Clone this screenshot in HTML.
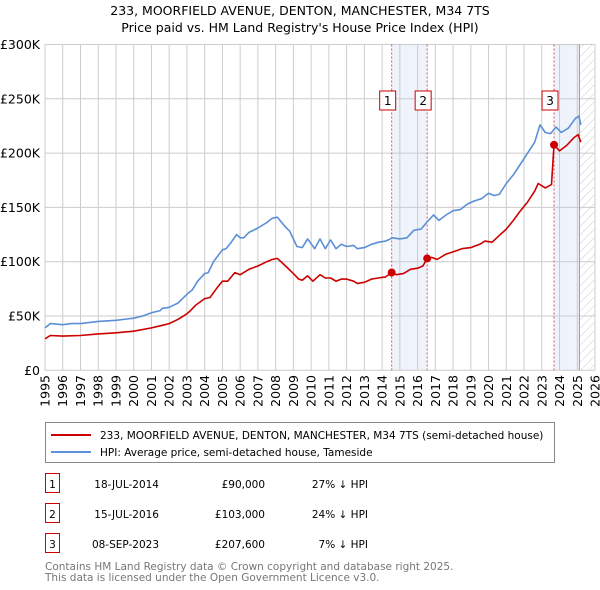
<!DOCTYPE html>
<html><head><meta charset="utf-8">
<style>
body{margin:0;background:#fff;font-family:"Liberation Sans","DejaVu Sans",sans-serif;}
#wrap{position:relative;width:600px;height:590px;overflow:hidden;}
svg text{font-family:"DejaVu Sans","Liberation Sans",sans-serif;}
</style></head>
<body>
<div id="wrap">
<svg id="chart" width="600" height="590"></svg>
</div>
<script>
const xTickYears=[1995,1996,1997,1998,1999,2000,2001,2002,2003,2004,2005,2006,2007,2008,2009,2010,2011,2012,2013,2014,2015,2016,2017,2018,2019,2020,2021,2022,2023,2024,2025,2026];
const yTicks=[0,50,100,150,200,250,300];
const yTickLabels=["£0","£50K","£100K","£150K","£200K","£250K","£300K"];
const hpiYears=[1995,1995.3,1996,1996.5,1997,1998,1999,2000,2000.5,2001,2001.5,2001.6,2002,2002.5,2003,2003.3,2003.6,2004,2004.2,2004.5,2005,2005.2,2005.5,2005.8,2006,2006.2,2006.5,2007,2007.5,2007.8,2008.1,2008.5,2008.8,2009.2,2009.5,2009.8,2010.2,2010.5,2010.8,2011.1,2011.4,2011.7,2012.0,2012.4,2012.6,2013.0,2013.4,2013.8,2014.2,2014.6,2015.0,2015.4,2015.8,2016.2,2016.5,2016.9,2017.2,2017.6,2018.0,2018.4,2018.8,2019.2,2019.6,2020.0,2020.3,2020.6,2021.0,2021.4,2021.8,2022.2,2022.6,2022.9,2023.2,2023.5,2023.8,2024.1,2024.5,2024.9,2025.1,2025.2];
const hpiValues=[39,43,42,43,43,45,46,48,50,53,55,57,58,62,70,74,82,89,90,100,111,112,118,125,122,122,127,131,136,140,141,133,128,114,113,121,112,121,112,120,112,116,114,115,112,113,116,118,119,122,121,122,129,130,136,143,138,143,147,148,153,156,158,163,161,162,172,180,190,200,210,226,219,218,224,219,223,232,234,226];
const priceYears=[1995,1995.3,1996,1997,1998,1999,2000,2001,2001.5,2002,2002.5,2003,2003.2,2003.5,2004,2004.3,2004.7,2005,2005.3,2005.7,2006,2006.5,2007,2007.5,2007.8,2008.1,2008.5,2009,2009.3,2009.5,2009.8,2010.1,2010.5,2010.8,2011.1,2011.4,2011.7,2012.0,2012.4,2012.6,2013.0,2013.4,2013.8,2014.2,2014.54,2014.8,2015.2,2015.6,2016.0,2016.3,2016.54,2016.8,2017.1,2017.6,2018.0,2018.5,2019,2019.5,2019.8,2020.2,2020.6,2021.0,2021.4,2021.8,2022.2,2022.6,2022.8,2023.2,2023.55,2023.69,2024.0,2024.4,2024.8,2025.05,2025.2];
const priceValues=[29,32,31.5,32,33.5,34.5,36,39,41,43,47,52,55,60,66,67,76,82,82,90,88,93,96,100,102,103,97,89,84,83,87,82,88,85,85,82,84,84,82,80,81,84,85,86,90,88,89,93,94,96,103,104,102,107,109,112,113,116,119,118,124,130,138,147,155,165,172,168,171,207.6,202,207,214,217,210];
const saleYears=[2014.54,2016.54,2023.69];
const saleValues=[90,103,207.6];
const saleLabels=["1","2","3"];

const NS="http://www.w3.org/2000/svg";
const svg=document.getElementById('chart');
const X0=45,X1=595,Y0=370.3,Y1=44.5;
const xs=y=>X0+(y-1995)/(2026-1995)*(X1-X0);
const ys=v=>Y0-v/300*(Y0-Y1);
function mk(tag,attrs,parent){const e=document.createElementNS(NS,tag);for(const k in attrs)e.setAttribute(k,attrs[k]);(parent||svg).appendChild(e);return e;}

let t=mk('text',{x:300,y:15,'text-anchor':'middle','font-size':12.5,fill:'#000'});t.textContent="233, MOORFIELD AVENUE, DENTON, MANCHESTER, M34 7TS";

t=mk('text',{x:300,y:32,'text-anchor':'middle','font-size':12.5,fill:'#000'});t.textContent="Price paid vs. HM Land Registry's House Price Index (HPI)";


let s=mk('rect',{x:xs(saleYears[0]),y:Y1,width:xs(saleYears[1])-xs(saleYears[0]),height:Y0-Y1,fill:'#eef3fc'});

s=mk('rect',{x:xs(saleYears[2]),y:Y1,width:xs(2025.12)-xs(saleYears[2]),height:Y0-Y1,fill:'#eef3fc'});

const defs=mk('defs',{});
const pat=mk('pattern',{id:'hatch',width:6,height:6,patternUnits:'userSpaceOnUse',patternTransform:'rotate(45)'},defs);
mk('line',{x1:0,y1:0,x2:0,y2:6,stroke:'#ccc','stroke-width':1},pat);
s=mk('rect',{x:xs(2025.12),y:Y1,width:X1-xs(2025.12),height:Y0-Y1,fill:'url(#hatch)'});


xTickYears.forEach(yr=>{
  const l=mk('line',{x1:xs(yr),x2:xs(yr),y1:Y1,y2:Y0,stroke:'#cccccc','stroke-width':1});
  
  const tx=mk('text',{transform:`translate(${xs(yr)+4.5},375) rotate(-90)`,'text-anchor':'end','font-size':12.5,fill:'#000'});
  tx.textContent=yr;
  
});
yTicks.forEach((v,i)=>{
  const l=mk('line',{x1:X0,x2:X1,y1:ys(v),y2:ys(v),stroke:'#cccccc','stroke-width':1});
  
  const tx=mk('text',{x:40,y:ys(v)+4.5,'text-anchor':'end','font-size':12.5,fill:'#000'});
  tx.textContent=yTickLabels[i];
  
});
let l=mk('line',{x1:xs(2025.12),x2:xs(2025.12),y1:Y1,y2:Y0,stroke:'#999','stroke-width':1});


saleYears.forEach((yr,i)=>{
  const d=mk('line',{x1:xs(yr),x2:xs(yr),y1:Y1,y2:Y0,stroke:'#e05050','stroke-width':1,'stroke-dasharray':'2,2'});
  
});

function path(xa,va,color,name){
  const p=mk('path',{d:xa.map((x,i)=>(i?'L':'M')+xs(x).toFixed(1)+','+ys(va[i]).toFixed(1)).join(''),fill:'none',stroke:color,'stroke-width':1.6,'stroke-linejoin':'round'});
  
}
path(hpiYears,hpiValues,'#5b8fd6','hpi-line');
path(priceYears,priceValues,'#cc0000','price-line');

saleYears.forEach((yr,i)=>{
  const c=mk('circle',{cx:xs(yr),cy:ys(saleValues[i]),r:4,fill:'#cc0000'});
  
  const g=mk('g',{});
  
  const bx=xs(yr)-4;
  mk('rect',{x:bx-8,y:91,width:16,height:19,fill:'#fff',stroke:'#cc0000','stroke-width':1},g);
  const tt=mk('text',{x:bx,y:105,'text-anchor':'middle','font-size':12,fill:'#000'},g);tt.textContent=saleLabels[i];
});

const lg=mk('g',{});

mk('rect',{x:45.5,y:422.5,width:509,height:40,fill:'#fff',stroke:'#888','stroke-width':1},lg);
mk('line',{x1:51,x2:91,y1:435,y2:435,stroke:'#cc0000','stroke-width':2},lg);
mk('line',{x1:51,x2:91,y1:452,y2:452,stroke:'#5b8fd6','stroke-width':2},lg);
let lt=mk('text',{x:100,y:439,'font-size':10.5,fill:'#000'},lg);lt.textContent="233, MOORFIELD AVENUE, DENTON, MANCHESTER, M34 7TS (semi-detached house)";

lt=mk('text',{x:100,y:456,'font-size':10.5,fill:'#000'},lg);lt.textContent="HPI: Average price, semi-detached house, Tameside";


const rows=[["1","18-JUL-2014","£90,000","27% ↓ HPI"],["2","15-JUL-2016","£103,000","24% ↓ HPI"],["3","08-SEP-2023","£207,600","7% ↓ HPI"]];
rows.forEach((r,i)=>{
  const y=486+i*30;
  const g=mk('g',{});
  
  mk('rect',{x:45.5,y:y-12.5,width:14,height:19,fill:'#fff',stroke:'#cc0000','stroke-width':1},g);
  let a=mk('text',{x:52.5,y:y+2,'text-anchor':'middle','font-size':10.5,fill:'#000'},g);a.textContent=r[0];
  a=mk('text',{x:159,y:y+2,'text-anchor':'end','font-size':10.5,fill:'#000'},g);a.textContent=r[1];
  a=mk('text',{x:265,y:y+2,'text-anchor':'end','font-size':10.5,fill:'#000'},g);a.textContent=r[2];
  a=mk('text',{x:368,y:y+2,'text-anchor':'end','font-size':10.5,fill:'#000'},g);a.textContent=r[3];
});
let f=mk('text',{x:45,y:570,'font-size':10.5,fill:'#777'});f.textContent="Contains HM Land Registry data © Crown copyright and database right 2025.";

f=mk('text',{x:45,y:581,'font-size':10.5,fill:'#777'});f.textContent="This data is licensed under the Open Government Licence v3.0.";

</script>
</body></html>
